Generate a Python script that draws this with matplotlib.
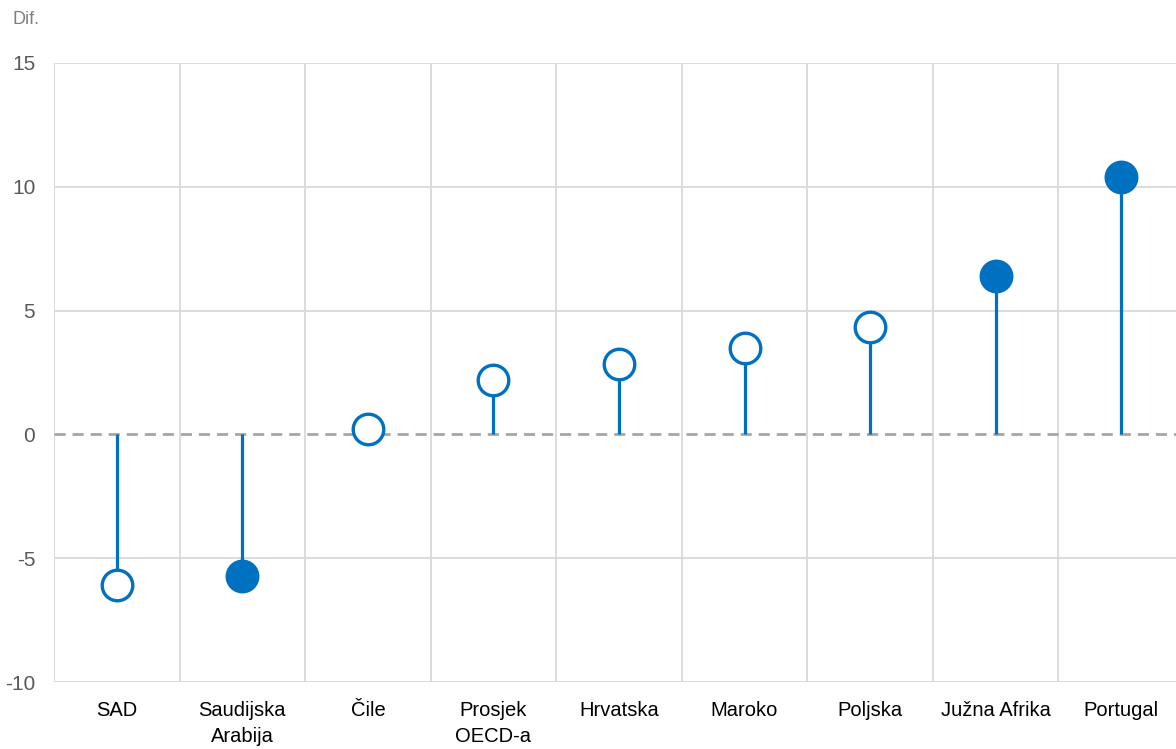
import matplotlib
matplotlib.use("Agg")
import matplotlib.pyplot as plt
import numpy as np

plt.rcParams['font.family'] = ['Liberation Sans Narrow', 'Liberation Sans', 'DejaVu Sans']
plt.rcParams['axes.unicode_minus'] = False

categories = ["SAD", "Saudijska\nArabija", "Čile", "Prosjek\nOECD-a", "Hrvatska",
              "Maroko", "Poljska", "Južna Afrika", "Portugal"]
values = [-6.1, -5.7, 0.2, 2.2, 2.85, 3.5, 4.35, 6.4, 10.4]
filled = [False, True, False, False, False, False, False, True, True]

blue = "#0070C0"
grid_col = "#D9D9D9"
text_col = "#595959"

fig = plt.figure(figsize=(11.76, 7.49), dpi=100)
ax = fig.add_axes([54 / 1176, 1 - 682 / 749, (1184 - 54) / 1176, (682 - 63) / 749])

x = np.arange(len(categories))

# stems
ax.vlines(x, 0, values, color=blue, lw=2.3, zorder=3)
# markers
for xi, v, f in zip(x, values, filled):
    ax.plot(xi, v, "o", ms=22, mfc=blue if f else "white", mec=blue, mew=2.4, zorder=4)

ax.axhline(0, color="#A6A6A6", lw=2, ls=(0, (4, 2.5)), zorder=2)

ax.set_xlim(-0.5, len(categories) - 0.5)
ax.set_ylim(-10, 15)
ax.set_yticks([-10, -5, 0, 5, 10, 15])
ax.set_xticks(x)
ax.set_xticklabels(categories, fontsize=14.5, color="#000000", linespacing=1.45, va="top")
ax.set_xticks(np.arange(-0.5, len(categories)), minor=True)

for y in [-10, -5, 5, 10, 15]:
    ax.axhline(y, color=grid_col, lw=1.3, zorder=1)
ax.grid(True, which="minor", axis="x", color=grid_col, lw=1.3, zorder=1)
ax.set_axisbelow(True)

for s in ax.spines.values():
    s.set_visible(False)
ax.tick_params(axis="both", which="both", length=0)
ax.tick_params(axis="y", labelsize=15, labelcolor=text_col, pad=13.5)
ax.tick_params(axis="x", pad=14)

fig.text(13 / 1176, 1 - 20 / 749, "Dif.", fontsize=13, color="#7F7F7F", va="center", ha="left")

fig.savefig("out.png", dpi=100)
